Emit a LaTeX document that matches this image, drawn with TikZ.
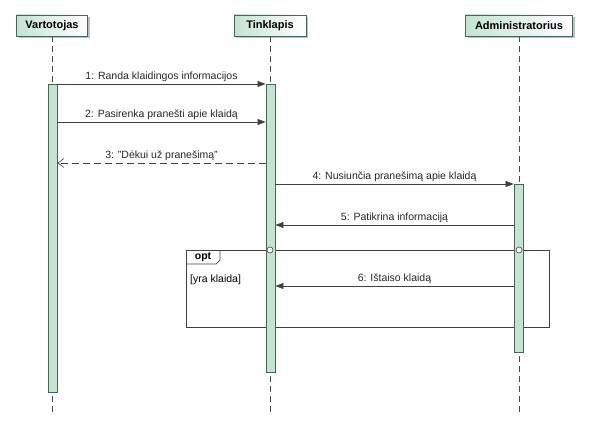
\documentclass[tikz,border=0pt]{standalone}
\usepackage{fontspec}
\setmainfont{Liberation Sans}
\usetikzlibrary{arrows.meta,shadows}

\begin{document}
\begin{tikzpicture}[x=1pt,y=-1pt,
    head/.style={draw=LineGreen, line width=0.9pt, left color=Mint, right color=white,
        minimum height=21pt, inner sep=0pt, font=\fontsize{11}{13}\selectfont\bfseries,
        drop shadow={shadow xshift=2pt, shadow yshift=-2pt, fill=black!25, opacity=1}},
    life/.style={draw=black!70, dash pattern=on 6pt off 4pt, line width=0.6pt},
    act/.style={draw=LineGreen, fill=Mint, line width=0.9pt, minimum width=9pt, inner sep=0pt},
    msg/.style={draw=black!75, line width=0.6pt, -{Triangle[length=8pt,width=6pt]}},
    reply/.style={draw=black!75, line width=0.6pt, dash pattern=on 7pt off 4pt, -{Straight Barb[length=6pt,width=9pt]}},
    lbl/.style={font=\fontsize{10.5}{12}\selectfont, text=black!85, above=1pt, inner sep=1pt},
    gate/.style={circle, draw=black!75, fill=white, line width=0.6pt, minimum size=6pt, inner sep=0pt}]
    \definecolor{Mint}{HTML}{C4E3D2}
    \definecolor{LineGreen}{HTML}{466757}
    \useasboundingbox (0,0) rectangle (593,430);

    % lifeline heads
    \node[head, minimum width=71pt] (vart) at (52,25.5) {Vartotojas};
    \node[head, minimum width=72pt] (tink) at (270,25.5) {Tinklapis};
    \node[head, minimum width=107pt] (admin) at (519,25.5) {Administratorius};

    % lifelines
    \coordinate (vartEnd) at (52,413);
    \coordinate (tinkEnd) at (270,413);
    \coordinate (adminEnd) at (519,413);
    \draw[life] (vart.south) -- (vartEnd);
    \draw[life] (tink.south) -- (tinkEnd);
    \draw[life] (admin.south) -- (adminEnd);

    % opt fragment
    \draw[draw=black!75, line width=0.7pt] (186,250) rectangle (549,327);
    \draw[draw=black!75, line width=0.7pt] (186,264) -- (216,264) -- (220,260) -- (220,250);
    \node[font=\fontsize{10.5}{12}\selectfont\bfseries] (optTag) at (203,257) {opt};
    \node[font=\fontsize{10.5}{12}\selectfont, anchor=west, inner sep=0pt] (guard) at (190,280) {[yra klaida]};

    % activations
    \node[act, minimum height=308pt] (actV) at (52.5,238) {};
    \node[act, minimum height=288pt] (actT) at (270.5,228) {};
    \node[act, minimum height=168pt] (actA) at (518.5,268) {};

    \node[gate] (gateT) at (270,250) {};
    \node[gate] (gateA) at (519,250) {};

    % messages
    \coordinate (m1) at (0,84);
    \coordinate (m2) at (0,122);
    \coordinate (m3) at (0,163);
    \coordinate (m4) at (0,184);
    \coordinate (m5) at (0,225);
    \coordinate (m6) at (0,286);
    \draw[msg] (actV.east |- m1) -- (actT.west |- m1) node[lbl, midway] {1: Randa klaidingos informacijos};
    \draw[msg] (actV.east |- m2) -- (actT.west |- m2) node[lbl, midway] {2: Pasirenka pranešti apie klaidą};
    \draw[reply] (actT.west |- m3) -- (actV.east |- m3) node[lbl, midway] {3: "Dėkui už pranešimą"};
    \draw[msg] (actT.east |- m4) -- (actA.west |- m4) node[lbl, midway] {4: Nusiunčia pranešimą apie klaidą};
    \draw[msg] (actA.west |- m5) -- (actT.east |- m5) node[lbl, midway] {5: Patikrina informaciją};
    \draw[msg] (actA.west |- m6) -- (actT.east |- m6) node[lbl, midway] {6: Ištaiso klaidą};
\end{tikzpicture}
\end{document}
